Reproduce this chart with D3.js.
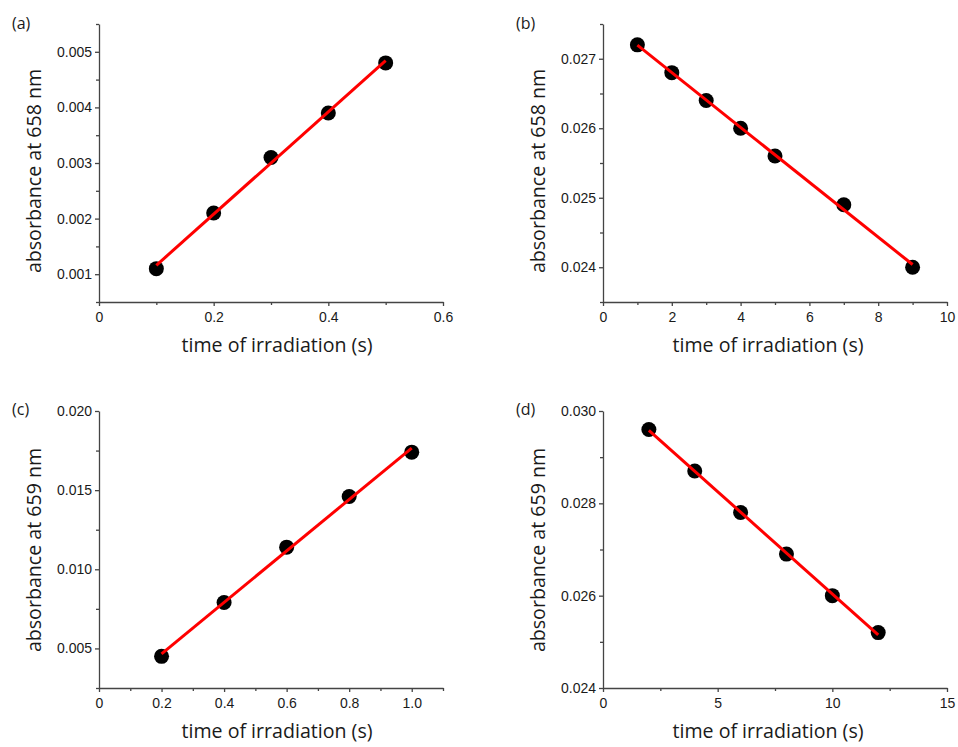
<!DOCTYPE html>
<html>
<head>
<meta charset="utf-8">
<script src="https://cdn.jsdelivr.net/npm/d3@7"></script>
<style>
  body { margin: 0; background: #fff; }
  svg text { fill: #1a1a1a; }
  .tick text { font-family: "Liberation Sans", Arial, sans-serif; font-size: 14px; }
  .axis path, .axis line { stroke: #444; stroke-width: 1.3; }
  .atitle { font-family: "Open Sans", "Noto Sans", sans-serif; font-size: 19.6px; }
  .plabel { font-family: "Open Sans", sans-serif; font-size: 16px; }
</style>
</head>
<body>
<svg id="fig" width="958" height="747"></svg>
<script>
// panel (a)
var timeA = [0.1, 0.2, 0.3, 0.4, 0.5];
var absA  = [0.0011, 0.0021, 0.0031, 0.0039, 0.0048];
var xTicksA = [0, 0.2, 0.4, 0.6];
var yTicksA = [0.001, 0.002, 0.003, 0.004, 0.005];

// panel (b)
var timeB = [1, 2, 3, 4, 5, 7, 9];
var absB  = [0.0272, 0.0268, 0.0264, 0.0260, 0.0256, 0.0249, 0.0240];
var xTicksB = [0, 2, 4, 6, 8, 10];
var yTicksB = [0.024, 0.025, 0.026, 0.027];

// panel (c)
var timeC = [0.2, 0.4, 0.6, 0.8, 1.0];
var absC  = [0.0045, 0.0079, 0.0114, 0.0146, 0.0174];
var xTicksC = [0, 0.2, 0.4, 0.6, 0.8, 1.0];
var yTicksC = [0.005, 0.010, 0.015, 0.020];

// panel (d)
var timeD = [2, 4, 6, 8, 10, 12];
var absD  = [0.0296, 0.0287, 0.0278, 0.0269, 0.0260, 0.0252];
var xTicksD = [0, 5, 10, 15];
var yTicksD = [0.024, 0.026, 0.028, 0.030];

var panels = [
    { lab: "(a)", xs: timeA, ys: absA, xt: xTicksA, yt: yTicksA, xdom: [0, 0.6],  ydom: [0.0005, 0.0055],
      xfmt: function(d){ return d === 0 ? "0" : d3.format(".1f")(d); }, yfmt: d3.format(".3f"),
      yname: "absorbance at 658 nm", left: 99, right: 443, top: 24, bottom: 302, ox: 0, oy: 0, xtc: 277, ytc: 171 },
    { lab: "(b)", xs: timeB, ys: absB, xt: xTicksB, yt: yTicksB, xdom: [0, 10],   ydom: [0.0235, 0.0275],
      xfmt: d3.format("d"), yfmt: d3.format(".3f"),
      yname: "absorbance at 658 nm", left: 603, right: 947, top: 24, bottom: 302, ox: 504, oy: 0, xtc: 768, ytc: 171 },
    { lab: "(c)", xs: timeC, ys: absC, xt: xTicksC, yt: yTicksC, xdom: [0, 1.1],  ydom: [0.0025, 0.020],
      xfmt: function(d){ return d === 0 ? "0" : d3.format(".1f")(d); }, yfmt: d3.format(".3f"),
      yname: "absorbance at 659 nm", left: 99, right: 443, top: 411, bottom: 688, ox: 0, oy: 386, xtc: 277, ytc: 550 },
    { lab: "(d)", xs: timeD, ys: absD, xt: xTicksD, yt: yTicksD, xdom: [0, 15],   ydom: [0.024, 0.030],
      xfmt: d3.format("d"), yfmt: d3.format(".3f"),
      yname: "absorbance at 659 nm", left: 603, right: 947, top: 411, bottom: 688, ox: 504, oy: 386, xtc: 768, ytc: 550 }
];

var svg = d3.select("#fig");

panels.forEach(function(p) {
    var x = d3.scaleLinear().domain(p.xdom).range([p.left, p.right]);
    var y = d3.scaleLinear().domain(p.ydom).range([p.bottom, p.top]);

    // minor ticks halfway between major ones
    var xStep = p.xt[1] - p.xt[0], yStep = p.yt[1] - p.yt[0];
    var xMinor = d3.range(p.xdom[0] + xStep / 2, p.xdom[1] + xStep * 0.01, xStep);
    var yMinor = d3.range(p.yt[0] - yStep / 2, p.ydom[1] + yStep * 0.01, yStep)
                   .filter(function(v){ return v >= p.ydom[0] - 1e-9; });

    var g = svg.append("g");

    g.append("g").attr("class", "axis")
        .attr("transform", "translate(0," + p.bottom + ")")
        .call(d3.axisBottom(x).tickValues(xMinor).tickSize(3).tickFormat(""))
        .select(".domain").remove();
    g.append("g").attr("class", "axis")
        .attr("transform", "translate(" + p.left + ",0)")
        .call(d3.axisLeft(y).tickValues(yMinor).tickSize(3).tickFormat(""))
        .select(".domain").remove();

    g.append("g").attr("class", "axis")
        .attr("transform", "translate(0," + p.bottom + ")")
        .call(d3.axisBottom(x).tickValues(p.xt).tickSize(4).tickSizeOuter(0).tickPadding(6).tickFormat(p.xfmt));
    g.append("g").attr("class", "axis")
        .attr("transform", "translate(" + p.left + ",0)")
        .call(d3.axisLeft(y).tickValues(p.yt).tickSize(4).tickSizeOuter(0).tickPadding(3).tickFormat(p.yfmt));

    // least squares fit
    var mx = d3.mean(p.xs), my = d3.mean(p.ys);
    var sxy = d3.sum(p.xs, function(v, i){ return (v - mx) * (p.ys[i] - my); });
    var sxx = d3.sum(p.xs, function(v){ return (v - mx) * (v - mx); });
    var slope = sxy / sxx, icpt = my - slope * mx;
    var ends = d3.extent(p.xs);

    g.selectAll("circle").data(p.xs).enter().append("circle")
        .attr("cx", function(d){ return x(d); })
        .attr("cy", function(d, i){ return y(p.ys[i]); })
        .attr("r", 7.5)
        .attr("fill", "#000");

    g.append("line")
        .attr("x1", x(ends[0])).attr("y1", y(icpt + slope * ends[0]))
        .attr("x2", x(ends[1])).attr("y2", y(icpt + slope * ends[1]))
        .attr("stroke", "#f00").attr("stroke-width", 3);

    g.append("text").attr("class", "atitle")
        .attr("x", p.xtc).attr("y", p.bottom + 50)
        .attr("text-anchor", "middle")
        .text("time of irradiation (s)");

    g.append("text").attr("class", "atitle")
        .attr("transform", "translate(" + (p.ox + 41) + "," + p.ytc + ") rotate(-90)")
        .attr("text-anchor", "middle")
        .text(p.yname);

    g.append("text").attr("class", "plabel")
        .attr("x", p.ox + 12).attr("y", p.oy + 29)
        .text(p.lab);
});
</script>
</body>
</html>
